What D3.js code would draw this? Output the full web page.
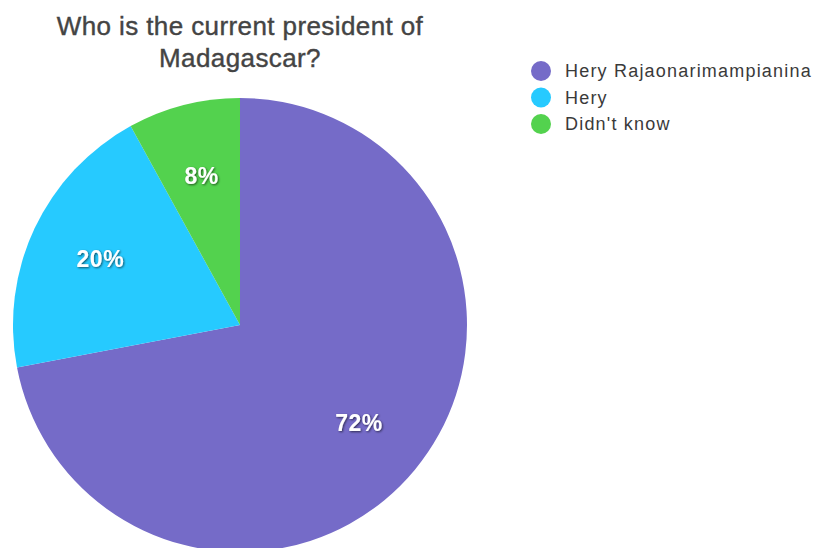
<!DOCTYPE html>
<html><head><meta charset="utf-8">
<script src="https://cdn.jsdelivr.net/npm/d3@7"></script>
<style>body{margin:0;background:#fff;} svg{display:block;}</style>
</head><body>
<svg id="chart" width="834" height="548"></svg>
<script>
const categories = ["Hery Rajaonarimampianina", "Hery", "Didn't know"];
const values = [72, 20, 8];
const colors = ["#756bc8", "#26caff", "#53d24e"];
const titleLines = ["Who is the current president of", "Madagascar?"];

const svg = d3.select("#chart");
const cx = 240, cy = 325, R = 227;

svg.selectAll("text.title").data(titleLines).join("text")
  .attr("class","title")
  .attr("x", 240).attr("y", (d,i)=>35 + i*32)
  .attr("text-anchor","middle")
  .style("font-family","Liberation Sans, Arial, sans-serif")
  .style("font-size","26px").style("fill","#444")
  .style("stroke","#444").style("stroke-width","0.4px")
  .style("letter-spacing","0.4px")
  .text(d=>d);

const pie = d3.pie().sort(null).value(d=>d);
const arcs = pie(values);
const arc = d3.arc().innerRadius(0).outerRadius(R);
const labelArc = d3.arc().innerRadius(R*0.68).outerRadius(R*0.68);
const g = svg.append("g").attr("transform",`translate(${cx},${cy})`);
g.selectAll("path").data(arcs).join("path")
  .attr("d", arc).attr("fill",(d,i)=>colors[i]);

const defs = svg.append("defs");
const f = defs.append("filter").attr("id","sh").attr("x","-20%").attr("y","-20%").attr("width","140%").attr("height","140%");
f.append("feDropShadow").attr("dx",1).attr("dy",1).attr("stdDeviation",0.8).attr("flood-color","#000").attr("flood-opacity",0.6);

g.selectAll("text").data(arcs).join("text")
  .attr("transform", d=>`translate(${labelArc.centroid(d)})`)
  .attr("text-anchor","middle").attr("dy","0.35em")
  .style("font-family","Liberation Sans, Arial, sans-serif")
  .style("font-size","23px").style("font-weight","bold").style("fill","#fff")
  .style("letter-spacing","0.5px")
  .attr("filter","url(#sh)")
  .text(d=>d.data + "%");

const lg = svg.append("g");
const rows = lg.selectAll("g").data(categories).join("g")
  .attr("transform",(d,i)=>`translate(541,${71 + i*26.5})`);
rows.append("circle").attr("r",10).attr("fill",(d,i)=>colors[i]);
rows.append("text").attr("x",24).attr("dy","0.35em")
  .style("font-family","Liberation Sans, Arial, sans-serif")
  .style("font-size","18px").style("fill","#3a3a3a")
  .style("letter-spacing","1.2px")
  .text(d=>d);
</script>
</body></html>
